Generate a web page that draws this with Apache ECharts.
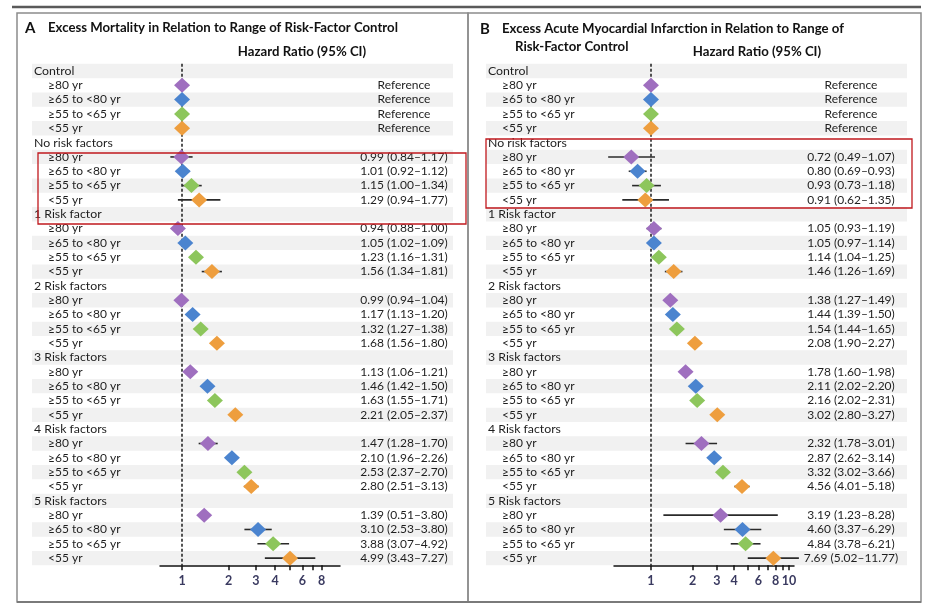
<!DOCTYPE html>
<html>
<head>
<meta charset="utf-8">
<script src="https://cdn.jsdelivr.net/npm/echarts@6/dist/echarts.min.js"></script>
<style>
html,body{margin:0;padding:0;background:#fff;}
#chart{width:928px;height:608px;}
</style>
</head>
<body>
<div id="chart"></div>
<script>
// ---------- DATA ----------
const groupLabels = ['Control', 'No risk factors', '1 Risk factor', '2 Risk factors', '3 Risk factors', '4 Risk factors', '5 Risk factors'];
const ageLabels = ['≥80 yr', '≥65 to <80 yr', '≥55 to <65 yr', '<55 yr'];
const ageColors = ['#9f6fbf', '#4b84cf', '#8dc65c', '#ee9e3e'];

// Panel A: excess mortality (rows: No risk factors .. 5 risk factors; cols: age groups)
const hrA = [
  [0.99, 1.01, 1.15, 1.29],
  [0.94, 1.05, 1.23, 1.56],
  [0.99, 1.17, 1.32, 1.68],
  [1.13, 1.46, 1.63, 2.21],
  [1.47, 2.10, 2.53, 2.80],
  [1.39, 3.10, 3.88, 4.99]
];
const loA = [
  [0.84, 0.92, 1.00, 0.94],
  [0.88, 1.02, 1.16, 1.34],
  [0.94, 1.13, 1.27, 1.56],
  [1.06, 1.42, 1.55, 2.05],
  [1.28, 1.96, 2.37, 2.51],
  [0.51, 2.53, 3.07, 3.43]
];
const hiA = [
  [1.17, 1.12, 1.34, 1.77],
  [1.00, 1.09, 1.31, 1.81],
  [1.04, 1.20, 1.38, 1.80],
  [1.21, 1.50, 1.71, 2.37],
  [1.70, 2.26, 2.70, 3.13],
  [3.80, 3.80, 4.92, 7.27]
];

// Panel B: excess acute myocardial infarction
const hrB = [
  [0.72, 0.80, 0.93, 0.91],
  [1.05, 1.05, 1.14, 1.46],
  [1.38, 1.44, 1.54, 2.08],
  [1.78, 2.11, 2.16, 3.02],
  [2.32, 2.87, 3.32, 4.56],
  [3.19, 4.60, 4.84, 7.69]
];
const loB = [
  [0.49, 0.69, 0.73, 0.62],
  [0.93, 0.97, 1.04, 1.26],
  [1.27, 1.39, 1.44, 1.90],
  [1.60, 2.02, 2.02, 2.80],
  [1.78, 2.62, 3.02, 4.01],
  [1.23, 3.37, 3.78, 5.02]
];
const hiB = [
  [1.07, 0.93, 1.18, 1.35],
  [1.19, 1.14, 1.25, 1.69],
  [1.49, 1.50, 1.65, 2.27],
  [1.98, 2.20, 2.31, 3.27],
  [3.01, 3.14, 3.66, 5.18],
  [8.28, 6.29, 6.21, 11.77]
];

const referenceText = 'Reference';
const tickLabelsA = [1, 2, 3, 4, 6, 8];
const tickMarksA = [1, 2, 3, 4, 5, 6, 7, 8];
const tickLabelsB = [1, 2, 3, 4, 6, 8, 10];
const tickMarksB = [1, 2, 3, 4, 5, 6, 7, 8, 9, 10];

const titleA = 'Excess Mortality in Relation to Range of Risk-Factor Control';
const titleB1 = 'Excess Acute Myocardial Infarction in Relation to Range of';
const titleB2 = 'Risk-Factor Control';
const axisTitle = 'Hazard Ratio (95% CI)';

// ---------- BUILD ----------
const FONT = 'Lato, "Noto Sans", sans-serif';
const TXT = '#1e1e1e';
const rowsPerGroup = ageLabels.length + 1;
const nRows = groupLabels.length * rowsPerGroup;

const leftLabels = [];
groupLabels.forEach(g => { leftLabels.push(g); ageLabels.forEach(a => leftLabels.push(a)); });
const rowIds = leftLabels.map((_, i) => String(i));

function fmt(v) { return v.toFixed(2); }
function rightLabels(hr, lo, hi) {
  const out = [];
  groupLabels.forEach((g, gi) => {
    out.push('');
    ageLabels.forEach((a, ai) => {
      if (gi === 0) out.push(referenceText);
      else out.push(fmt(hr[gi - 1][ai]) + ' (' + fmt(lo[gi - 1][ai]) + '–' + fmt(hi[gi - 1][ai]) + ')');
    });
  });
  return out;
}
const rightA = rightLabels(hrA, loA, hiA);
const rightB = rightLabels(hrB, loB, hiB);

function pointsFor(hr, ai) {
  const pts = [[1, ai + 1]];
  hr.forEach((row, gi) => pts.push([row[ai], (gi + 1) * rowsPerGroup + ai + 1]));
  return pts;
}
function whiskersFor(lo, hi, axisMin, dropOffscale) {
  const w = [];
  lo.forEach((row, gi) => row.forEach((l, ai) => {
    if (dropOffscale && l < axisMin) return;
    w.push([l, hi[gi][ai], (gi + 1) * rowsPerGroup + ai + 1]);
  }));
  return w;
}
const bandRows = [];
for (let i = 0; i < nRows; i += 2) bandRows.push([1, i]);

const panels = [
  { grid: { left: 160, width: 180, top: 63.8, height: 501.5 }, min: 0.72, max: 10.5,
    hr: hrA, lo: loA, hi: hiA, right: rightA, labels: tickLabelsA, ticks: tickMarksA, drop: true, rightMargin: 64 },
  { grid: { left: 614, width: 180, top: 63.8, height: 501.5 }, min: 0.54, max: 10.85,
    hr: hrB, lo: loB, hi: hiB, right: rightB, labels: tickLabelsB, ticks: tickMarksB, drop: false, rightMargin: 57 }
];

const grids = [], xAxes = [], yAxes = [], series = [];
panels.forEach((p, pi) => {
  grids.push(Object.assign({ containLabel: false }, p.grid));
  xAxes.push({
    type: 'log', gridIndex: pi, min: p.min, max: p.max, logBase: 10,
    axisLine: { show: true, lineStyle: { color: '#111', width: 1.5 } },
    axisTick: { show: true, length: 5, inside: false, customValues: p.ticks, lineStyle: { color: '#111', width: 1.5 } },
    axisLabel: { show: true, customValues: p.labels, margin: 9, color: '#3a3a60', fontSize: 12.5, fontFamily: FONT, fontWeight: 'bold',
      formatter: v => String(Math.round(v)) },
    splitLine: { show: false }, minorTick: { show: false }
  });
  yAxes.push({
    type: 'category', gridIndex: pi, inverse: true, data: rowIds, position: 'left',
    axisLine: { show: false }, axisTick: { show: false }, splitLine: { show: false },
    axisLabel: {
      show: true, interval: 0, margin: 126, align: 'left', color: TXT, fontSize: 12, fontFamily: FONT,
      formatter: (v, i) => (i % rowsPerGroup === 0 ? '{h|' + leftLabels[i] + '}' : '{s|' + leftLabels[i] + '}'),
      rich: { h: { fontSize: 12.3, fontFamily: FONT, color: TXT }, s: { fontSize: 12, fontFamily: FONT, color: TXT, padding: [0, 0, 0, 14] } }
    }
  });
  yAxes.push({
    type: 'category', gridIndex: pi, inverse: true, data: rowIds, position: 'right',
    axisLine: { show: false }, axisTick: { show: false }, splitLine: { show: false },
    axisLabel: { show: true, interval: 0, margin: p.rightMargin, align: 'center', color: TXT, fontSize: 12, fontFamily: FONT,
      formatter: (v, i) => p.right[i] }
  });
  const yl = pi * 2;
  // alternating row bands
  series.push({
    type: 'custom', xAxisIndex: pi, yAxisIndex: yl, z: 0, silent: true, clip: false,
    data: bandRows,
    encode: { x: 0, y: 1 },
    renderItem: (params, api) => {
      const c = api.coord([1, api.value(1)]);
      const h = api.size([0, 1])[1];
      const cs = params.coordSys;
      const x0 = cs.x - 128, x1 = cs.x + cs.width + 113;
      return { type: 'rect', shape: { x: x0, y: c[1] - h / 2, width: x1 - x0, height: h }, style: { fill: '#f1f1f1' } };
    }
  });
  // confidence-interval whiskers
  series.push({
    type: 'custom', xAxisIndex: pi, yAxisIndex: yl, z: 3, silent: true, clip: false,
    data: whiskersFor(p.lo, p.hi, p.min, p.drop),
    encode: { x: [0, 1], y: 2 },
    renderItem: (params, api) => {
      const a = api.coord([api.value(0), api.value(2)]);
      const b = api.coord([api.value(1), api.value(2)]);
      return { type: 'line', shape: { x1: a[0], y1: a[1], x2: b[0], y2: b[1] }, style: { stroke: '#2a2a2a', lineWidth: 1.6 } };
    }
  });
  // diamonds per age group
  ageLabels.forEach((a, ai) => {
    const s = {
      type: 'scatter', name: a, xAxisIndex: pi, yAxisIndex: yl, z: 5, silent: true,
      symbol: 'diamond', symbolSize: [16, 15],
      itemStyle: { color: ageColors[ai], opacity: 1 },
      data: pointsFor(p.hr, ai)
    };
    if (ai === 0) {
      s.markLine = {
        silent: true, symbol: 'none', z: 2, animation: false,
        label: { show: false },
        lineStyle: { color: '#2a2a2a', type: [3, 2], width: 1.6 },
        data: [{ xAxis: 1 }]
      };
    }
    series.push(s);
  });
});

const chart = echarts.init(document.getElementById('chart'), null, { renderer: 'canvas' });
chart.setOption({
  animation: false,
  backgroundColor: '#fff',
  grid: grids, xAxis: xAxes, yAxis: yAxes, series: series,
  graphic: [
    { type: 'line', z: 10, shape: { x1: 12, y1: 7, x2: 921, y2: 7 }, style: { stroke: '#5a5a5a', lineWidth: 2.5 } },
    { type: 'rect', z: 10, shape: { x: 17, y: 13, width: 451, height: 589 }, style: { fill: 'none', stroke: '#8c8c8c', lineWidth: 1.5 } },
    { type: 'rect', z: 10, shape: { x: 468, y: 13, width: 453, height: 589 }, style: { fill: 'none', stroke: '#8c8c8c', lineWidth: 1.5 } },
    { type: 'line', z: 10, shape: { x1: 17, y1: 602, x2: 921, y2: 602 }, style: { stroke: '#7a7a7a', lineWidth: 2 } },
    { type: 'text', z: 10, x: 25, y: 28, style: { text: 'A', font: 'bold 15px ' + FONT, fill: '#111', verticalAlign: 'middle' } },
    { type: 'text', z: 10, x: 48, y: 28, style: { text: titleA, font: 'bold 13.2px ' + FONT, fill: '#111', verticalAlign: 'middle' } },
    { type: 'text', z: 10, x: 302, y: 52, style: { text: axisTitle, font: 'bold 13.2px ' + FONT, fill: '#111', align: 'center', verticalAlign: 'middle' } },
    { type: 'text', z: 10, x: 480, y: 29, style: { text: 'B', font: 'bold 15px ' + FONT, fill: '#111', verticalAlign: 'middle' } },
    { type: 'text', z: 10, x: 502, y: 29, style: { text: titleB1, font: 'bold 13.2px ' + FONT, fill: '#111', verticalAlign: 'middle' } },
    { type: 'text', z: 10, x: 515, y: 47, style: { text: titleB2, font: 'bold 13.2px ' + FONT, fill: '#111', verticalAlign: 'middle' } },
    { type: 'text', z: 10, x: 757, y: 52, style: { text: axisTitle, font: 'bold 13.2px ' + FONT, fill: '#111', align: 'center', verticalAlign: 'middle' } },
    { type: 'rect', z: 11, shape: { x: 38, y: 153, width: 428, height: 71 }, style: { fill: 'none', stroke: '#c0191e', lineWidth: 1.3 } },
    { type: 'rect', z: 11, shape: { x: 486, y: 139, width: 426, height: 69 }, style: { fill: 'none', stroke: '#c0191e', lineWidth: 1.3 } }
  ]
});
</script>
</body>
</html>
